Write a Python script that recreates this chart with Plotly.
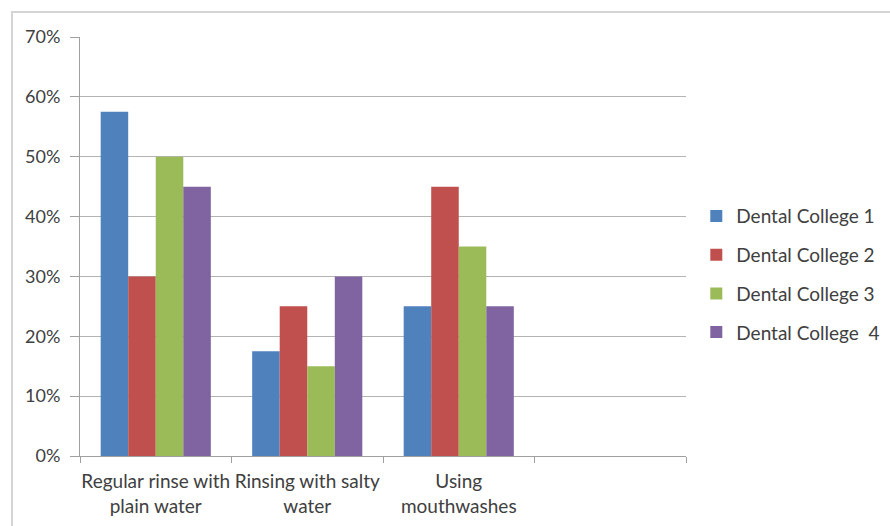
import plotly.graph_objects as go

# Survey categories (the fourth slot on the axis is left empty)
categories = ["Regular rinse with<br>plain water", "Rinsing with salty<br>water", "Using<br>mouthwashes", " "]
series_names = ["Dental College 1", "Dental College 2", "Dental College 3", "Dental College  4"]
college1 = [0.575, 0.175, 0.25, None]
college2 = [0.30, 0.25, 0.45, None]
college3 = [0.50, 0.15, 0.35, None]
college4 = [0.45, 0.30, 0.25, None]
colors = ["#4F81BD", "#C0504D", "#9BBB59", "#8064A2"]

font_family = "Lato, 'Open Sans', sans-serif"
text_color = "#404040"

fig = go.Figure()
for i, (name, vals) in enumerate(zip(series_names, [college1, college2, college3, college4])):
    fig.add_trace(go.Bar(
        x=categories, y=vals, name=name, legendgroup=f"g{i}",
        marker=dict(color=colors[i], line=dict(width=0)),
    ))

fig.update_layout(
    width=890, height=526,
    margin=dict(l=80, r=204, t=37, b=70, autoexpand=False),
    paper_bgcolor="white", plot_bgcolor="white",
    barmode="group", bargap=0.273, bargroupgap=0,
    font=dict(family=font_family, size=18, color=text_color),
    legend=dict(
        x=1.017, y=0.434, xanchor="left", yanchor="middle",
        traceorder="grouped", tracegroupgap=11,
        font=dict(size=19, color=text_color),
        itemwidth=30,
    ),
    xaxis=dict(
        type="category", tickson="boundaries",
        ticks="outside", ticklen=6, tickcolor="#a0a0a0",
        showline=True, linecolor="#a0a0a0", linewidth=1,
        showgrid=False, tickfont=dict(size=19, color=text_color),
        tickangle=0, automargin=False,
        ticklabelstandoff=8,
        range=[-0.5, 3.5],
    ),
    yaxis=dict(
        range=[0, 0.7], dtick=0.1, tickformat=".0%",
        showgrid=True, gridcolor="#b4b4b4", gridwidth=1,
        showline=True, linecolor="#a0a0a0", linewidth=1,
        ticks="outside", ticklen=9, tickcolor="#a0a0a0",
        zeroline=False, ticklabelstandoff=6, automargin=False,
        tickfont=dict(size=18, color=text_color),
    ),
    shapes=[dict(
        type="rect", xref="paper", yref="paper",
        x0=-0.1122, y0=-0.18, x1=1.36, y1=1.0597,
        line=dict(color="#d4d4d4", width=2), fillcolor="rgba(0,0,0,0)",
        layer="below",
    )],
)

fig.write_html("out.html")
